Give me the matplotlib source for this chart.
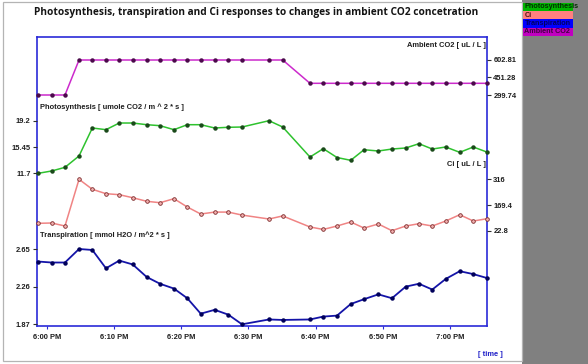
import matplotlib
matplotlib.use("Agg")
import matplotlib.pyplot as plt
from matplotlib.patches import Rectangle

# ---------------- data ----------------
times_min = [-1.25, 0.74, 2.72, 4.81, 6.79, 8.82, 10.80, 12.80, 14.88, 16.86, 18.94,
             20.92, 22.92, 25.00, 27.02, 29.06, 33.08, 35.12, 39.18, 41.16, 43.20,
             45.24, 47.22, 49.35, 51.38, 53.42, 55.40, 57.38, 59.38, 61.46, 63.48, 65.48]

ambient_co2 = [299.74, 299.74, 299.74] + [602.81] * 15 + [401.0] * 14

photosynthesis = [11.70, 12.03, 12.55, 14.17, 18.16, 17.92, 18.87, 18.87, 18.63, 18.49,
                  17.92, 18.63, 18.63, 18.16, 18.26, 18.30, 19.20, 18.30, 14.02, 15.21,
                  13.95, 13.55, 15.06, 14.88, 15.16, 15.31, 15.92, 15.16, 15.45, 14.69,
                  15.45, 14.74]

ci = [65.0, 66.7, 49.6, 316.0, 259.0, 233.9, 228.2, 211.0, 190.5, 182.5, 205.3, 158.0,
      118.0, 129.0, 129.0, 112.0, 89.5, 107.0, 44.0, 30.0, 49.6, 72.4, 38.0, 61.0, 22.8,
      49.6, 62.7, 49.6, 78.0, 114.0, 78.0, 91.0]

transpiration = [2.52, 2.51, 2.51, 2.65, 2.64, 2.45, 2.53, 2.49, 2.36, 2.29, 2.24, 2.14,
                 1.98, 2.02, 1.97, 1.87, 1.92, 1.915, 1.92, 1.95, 1.96, 2.08, 2.13, 2.18,
                 2.14, 2.26, 2.29, 2.23, 2.34, 2.42, 2.39, 2.35]

x_ticks = [0, 10, 20, 30, 40, 50, 60]
x_tick_labels = ["6:00 PM", "6:10 PM", "6:20 PM", "6:30 PM", "6:40 PM", "6:50 PM", "7:00 PM"]

co2_ticks = [299.74, 451.28, 602.81]
co2_tick_labels = ["299.74", "451.28", "602.81"]
ps_ticks = [11.7, 15.45, 19.2]
ps_tick_labels = ["11.7", "15.45", "19.2"]
ci_ticks = [22.8, 169.4, 316]
ci_tick_labels = ["22.8", "169.4", "316"]
tr_ticks = [1.87, 2.26, 2.65]
tr_tick_labels = ["1.87", "2.26", "2.65"]

title = "Photosynthesis, transpiration and Ci responses to changes in ambient CO2 concetration"
legend_names = ["Photosynthesis", "Ci", "Transpiration", "Ambient CO2"]

# ---------------- layout ----------------
W, H = 588, 364
fig = plt.figure(figsize=(W / 100, H / 100), dpi=100)
fig.patch.set_facecolor("white")

def rect(x0, ytop, x1, ybot):
    return [x0 / W, (H - ybot) / H, (x1 - x0) / W, (ybot - ytop) / H]

def fx(x):
    return x / W

def fy(y):
    return 1 - y / H

SMALL = dict(family="Liberation Sans", fontweight="bold", fontsize=5.4)
TXT = "#1e1e1e"
FRAME = "#2a2ad8"
XL = (-1.443, 65.52)

# background decorations
fig.patches.append(Rectangle((fx(522), 0), 1 - fx(522), 1, transform=fig.transFigure,
                             facecolor="#808080", edgecolor="none", zorder=0))
fig.patches.append(Rectangle((fx(3), fy(361)), fx(519), fy(1.5) - fy(361),
                             transform=fig.transFigure, facecolor="none",
                             edgecolor="#b4b4b4", lw=0.9, zorder=0))

# main frame axes
ax = fig.add_axes(rect(37, 37, 487, 326))
ax.set_facecolor("white")
ax.set_xlim(*XL)
ax.set_ylim(0, 1)
ax.set_yticks([])
ax.set_xticks(x_ticks)
ax.set_xticklabels(x_tick_labels, **SMALL, color=TXT)
ax.tick_params(axis="x", direction="out", length=2, width=0.8, color=FRAME, pad=3.5)
for s in ax.spines.values():
    s.set_color(FRAME)
    s.set_linewidth(1.2)

def series_axes(ytop, ybot, ylim, ticks, labels, side):
    a = fig.add_axes(rect(37, ytop, 487, ybot))
    a.patch.set_alpha(0)
    for s in a.spines.values():
        s.set_visible(False)
    a.set_xlim(*XL)
    a.set_ylim(*ylim)
    a.set_xticks([])
    a.set_yticks(ticks)
    a.set_yticklabels(labels, **SMALL, color=TXT)
    if side == "right":
        a.yaxis.tick_right()
    a.tick_params(axis="y", direction="out", length=3, width=0.8, color="#303030", pad=1.5)
    return a

ax_co2 = series_axes(60, 95, (299.74, 602.81), co2_ticks, co2_tick_labels, "right")
ax_ps = series_axes(120.7, 173.3, (11.7, 19.2), ps_ticks, ps_tick_labels, "left")
ax_ci = series_axes(179.3, 230.7, (22.8, 316), ci_ticks, ci_tick_labels, "right")
ax_tr = series_axes(249, 324.3, (1.87, 2.65), tr_ticks, tr_tick_labels, "left")

ax_co2.plot(times_min, ambient_co2, color="#cc2acc", lw=1.1, marker="o", ms=2.2,
            mfc="#4a0a4a", mec="#4a0a4a", clip_on=False)
ax_ps.plot(times_min, photosynthesis, color="#2ec22e", lw=1.1, marker="o", ms=2.2,
           mfc="#1a4a1a", mec="#1a4a1a", clip_on=False)
ax_ci.plot(times_min, ci, color="#f08484", lw=1.1, marker="o", ms=2.6,
           mfc="#f4b0b0", mec="#7a2a2a", mew=0.6, clip_on=False)
ax_tr.plot(times_min, transpiration, color="#1414a8", lw=1.3, marker="o", ms=2.2,
           mfc="#00005a", mec="#00005a", clip_on=False)

# series labels
fig.text(fx(485.5), fy(45.7), "Ambient CO2 [ uL / L ]", ha="right", va="center", color=TXT, **SMALL)
fig.text(fx(40), fy(107.3), "Photosynthesis [ umole CO2 / m ^ 2 * s ]", ha="left", va="center", color=TXT, **SMALL)
fig.text(fx(485.5), fy(165), "Ci [ uL / L ]", ha="right", va="center", color=TXT, **SMALL)
fig.text(fx(40), fy(235), "Transpiration [ mmol H2O / m^2 * s ]", ha="left", va="center", color=TXT, **SMALL)
fig.text(fx(478), fy(355), "[ time ]", ha="left", va="center", color="#2020c8", **SMALL)

# title
t = fig.text(fx(256.5), fy(12), title, ha="center", va="center", family="Open Sans",
             fontweight="bold", fontsize=9, color="#141414")
r = fig.canvas.get_renderer()
w = t.get_window_extent(r).width
t.set_fontsize(9 * 443 / w)

# legend in the gray panel
leg_colors = ["#00b400", "#ff8080", "#0000ff", "#c000c0"]
leg_text_colors = ["#003000", "#501010", "#000060", "#400040"]
for i, (name, c, tc) in enumerate(zip(legend_names, leg_colors, leg_text_colors)):
    ytop = 2.6 + i * 8.3
    fig.patches.append(Rectangle((fx(523), fy(ytop + 8.3)), fx(50), fy(ytop) - fy(ytop + 8.3),
                                 transform=fig.transFigure, facecolor=c, edgecolor="none", zorder=1))
    fig.text(fx(524.5), fy(ytop + 4.3), name, ha="left", va="center", color=tc,
             family="Liberation Sans", fontweight="bold", fontsize=5.2)

fig.savefig("out.png", dpi=100)
